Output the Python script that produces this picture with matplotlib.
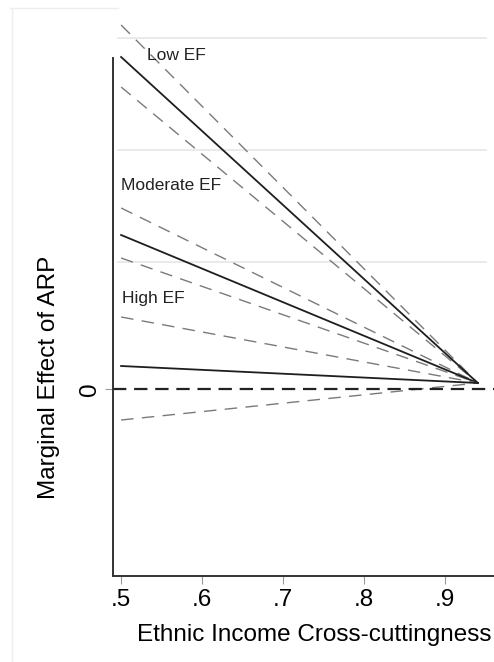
import matplotlib.pyplot as plt

# x range of the marginal-effect lines
x_pts = [0.5, 0.94]

# estimates and confidence bounds at the two ends
low_est = [3.32, 0.06]
low_hi = [3.64, 0.06]
low_lo = [3.02, 0.06]

mod_est = [1.54, 0.06]
mod_hi = [1.81, 0.06]
mod_lo = [1.31, 0.06]

high_est = [0.23, 0.06]
high_hi = [0.72, 0.06]
high_lo = [-0.31, 0.06]

grid_y = [3.51, 2.39, 1.27]
xticks = [0.5, 0.6, 0.7, 0.8, 0.9]
xtick_labels = [".5", ".6", ".7", ".8", ".9"]

plt.rcParams['font.family'] = ['Liberation Sans', 'DejaVu Sans']

fig = plt.figure(figsize=(4.94, 6.62), dpi=100)
ax = fig.add_axes([113 / 494, 86 / 662, 381 / 494, 576 / 662])
ax.set_xlim(0.49, 0.96)
ax.set_ylim(-1.87, 3.89)

for g in grid_y:
    ax.axhline(g, xmin=0.013, xmax=0.98, color='#e6e6e6', lw=1.2, zorder=0)

ci_style = dict(color='#7a7a7a', lw=1.0, dashes=(9, 6))
est_style = dict(color='#1e1e1e', lw=1.3)

for est, hi, lo in [(low_est, low_hi, low_lo),
                    (mod_est, mod_hi, mod_lo),
                    (high_est, high_hi, high_lo)]:
    ax.plot(x_pts, hi, **ci_style)
    ax.plot(x_pts, lo, **ci_style)
    ax.plot(x_pts, est, **est_style)

ax.axhline(0, color='#222222', lw=1.6, dashes=(6, 3.5))

ax.text(0.532, 3.34, "Low EF", fontsize=12.5, va='center', color='#222222')
ax.text(0.5, 2.04, "Moderate EF", fontsize=12.5, va='center', color='#222222')
ax.text(0.501, 0.9, "High EF", fontsize=12.5, va='center', color='#222222')

for s in ['top', 'right']:
    ax.spines[s].set_visible(False)
ax.spines['left'].set_bounds(-1.87, 3.31)
ax.spines['left'].set_color('#333333')
ax.spines['bottom'].set_color('#333333')
ax.spines['left'].set_linewidth(1.4)
ax.spines['bottom'].set_linewidth(1.4)

ax.set_xticks(xticks)
ax.set_xticklabels(xtick_labels, fontsize=17.5)
ax.set_yticks([0])
ax.set_yticklabels(["0"], fontsize=17.5, rotation=90, va='center')
ax.tick_params(axis='both', length=6, color='#999999', pad=3)

ax.set_xlabel("Ethnic Income Cross-cuttingness", fontsize=17.5)
ax.xaxis.set_label_coords(0.528, -0.083)
ax.set_ylabel("Marginal Effect of ARP", fontsize=17.5)
ax.yaxis.set_label_coords(-0.14, 0.344)

# faint frame remnants along the top and left edge
fig.add_artist(plt.Line2D([10 / 494, 118 / 494], [1 - 8 / 662, 1 - 8 / 662],
                          color='#eeeeee', lw=1))
fig.add_artist(plt.Line2D([12 / 494, 12 / 494], [0.0, 1 - 8 / 662],
                          color='#eeeeee', lw=1))

fig.savefig("out.png", dpi=100)
